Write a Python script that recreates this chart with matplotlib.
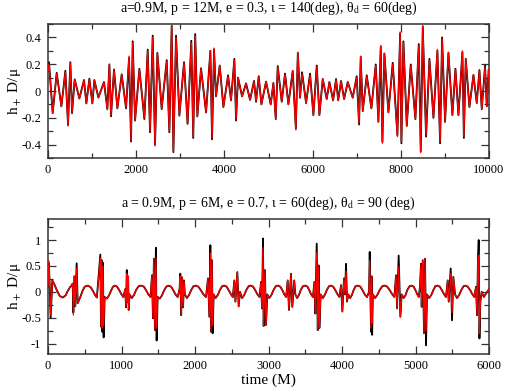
import matplotlib
matplotlib.use("Agg")
import matplotlib.pyplot as plt
from matplotlib.ticker import MultipleLocator, FixedFormatter, FixedLocator

plt.rcParams['font.family'] = ['Liberation Serif', 'DejaVu Serif']
plt.rcParams['mathtext.fontset'] = 'stix'

# ---------------- data (extrema) ----------------
top_t = [0, 23, 106, 197, 303, 394, 454, 507, 545, 605, 711, 817, 870, 938, 1006, 1051,
         1142, 1270, 1346, 1392, 1429, 1497, 1573, 1671, 1770, 1838, 1883, 1921, 1974,
         2072, 2185, 2261, 2314, 2374, 2427, 2480, 2578, 2692, 2752, 2805, 2843, 2903,
         2979, 3085, 3165, 3250, 3293, 3338, 3387, 3470, 3584, 3682, 3720, 3765, 3810,
         3894, 3977, 4083, 4150, 4226, 4264, 4309, 4400, 4491, 4582, 4672, 4718, 4778,
         4839, 4945, 5050, 5111, 5164, 5209, 5300, 5375, 5451, 5549, 5620, 5665, 5715,
         5761, 5852, 5942, 6018, 6094, 6154, 6230, 6320, 6381, 6465, 6532, 6580, 6645,
         6714, 6797, 6910, 7000, 7054, 7091, 7137, 7228, 7333, 7432, 7492, 7545, 7583,
         7628, 7719, 7817, 7923, 7984, 8014, 8059, 8135, 8225, 8331, 8407, 8452, 8498,
         8573, 8649, 8740, 8830, 8891, 8936, 9004, 9080, 9170, 9239, 9307, 9397, 9430,
         9473, 9556, 9647, 9722, 9783, 9836, 9911, 9949, 9994, 10000]
top_black = [0.15, 0.215, -0.165, 0.136, -0.115, 0.151, -0.254, 0.215, -0.165, 0.087, -0.056,
             0.082, -0.093, 0.092, -0.093, 0.082, -0.049, 0.067, -0.135, 0.198, -0.189,
             0.161, -0.13, 0.124, -0.13, 0.247, -0.377, 0.371, -0.221, 0.166, -0.209,
             0.309, -0.308, 0.413, -0.40, 0.284, -0.135, 0.23, -0.308, 0.487, -0.456,
             0.413, -0.184, 0.215, -0.245, 0.375, -0.35, 0.425, -0.19, 0.17, -0.16, 0.30,
             -0.36, 0.31, -0.04, 0.19, -0.12, 0.117, -0.07, 0.24, -0.22, 0.10, -0.04,
             0.057, -0.066, 0.075, -0.08, 0.11, -0.10, 0.07, -0.10, 0.06, -0.21, 0.186,
             -0.08, 0.13, -0.10, 0.15, -0.28, 0.284, -0.05, 0.14, -0.09, 0.13, -0.18,
             0.19, -0.18, 0.09, -0.06, 0.067, -0.07, 0.09, -0.07, 0.075, -0.06, 0.067,
             -0.05, 0.11, -0.25, 0.255, -0.15, 0.117, -0.13, 0.198, -0.23, 0.33, -0.38,
             0.28, -0.16, 0.21, -0.33, 0.43, -0.39, 0.37, -0.26, 0.198, -0.21, 0.35,
             -0.45, 0.48, -0.34, 0.24, -0.20, 0.30, -0.39, 0.40, -0.23, 0.284, -0.18,
             0.166, -0.18, 0.29, -0.35, 0.24, -0.12, 0.12, -0.09, 0.156, -0.135, 0.19,
             -0.115, 0.16, 0.12]
top_red = [0.15, 0.20, -0.165, 0.13, -0.115, 0.14, -0.26, 0.21, -0.16, 0.085, -0.056,
           0.08, -0.09, 0.085, -0.09, 0.08, -0.049, 0.065, -0.14, 0.20, -0.18,
           0.16, -0.13, 0.12, -0.125, 0.26, -0.37, 0.36, -0.22, 0.16, -0.20,
           0.30, -0.30, 0.40, -0.41, 0.28, -0.13, 0.22, -0.30, 0.49, -0.45,
           0.40, -0.18, 0.21, -0.24, 0.36, -0.34, 0.41, -0.19, 0.17, -0.16, 0.30,
           -0.35, 0.32, -0.04, 0.19, -0.12, 0.11, -0.07, 0.23, -0.21, 0.10, -0.04,
           0.055, -0.066, 0.07, -0.08, 0.105, -0.10, 0.07, -0.10, 0.06, -0.21, 0.18,
           -0.08, 0.125, -0.10, 0.15, -0.29, 0.29, -0.05, 0.13, -0.09, 0.12, -0.18,
           0.18, -0.18, 0.09, -0.06, 0.065, -0.07, 0.085, -0.07, 0.07, -0.06, 0.065,
           -0.05, 0.10, -0.24, 0.26, -0.15, 0.11, -0.13, 0.19, -0.23, 0.34, -0.39,
           0.28, -0.16, 0.20, -0.34, 0.44, -0.38, 0.36, -0.26, 0.19, -0.21, 0.34,
           -0.46, 0.49, -0.33, 0.23, -0.20, 0.31, -0.38, 0.39, -0.23, 0.29, -0.18,
           0.16, -0.18, 0.30, -0.34, 0.24, -0.12, 0.12, -0.09, 0.15, -0.135, 0.18,
           -0.115, 0.16, 0.12]

# bottom panel: smooth background between bursts (same for both curves)
bot_smooth_t = [85, 120, 160, 200, 240, 270, 300, 320,
                440, 470, 500, 540, 580, 610, 640, 665,
                800, 830, 860, 885, 910, 940, 970, 1000, 1025,
                1140, 1170, 1200, 1235, 1270, 1305, 1335, 1365, 1395,
                1520, 1550, 1580, 1610, 1640, 1675, 1705, 1735, 1765,
                1890, 1920, 1950, 1980, 2010, 2045, 2080, 2115, 2150,
                2280, 2310, 2340, 2370, 2400, 2430, 2460, 2490, 2515,
                2640, 2670, 2700, 2730, 2760, 2790, 2820, 2850, 2878,
                3010, 3040, 3070, 3100, 3130, 3160, 3190, 3215, 3240,
                3390, 3415, 3440, 3470, 3500, 3530, 3555, 3580, 3605,
                3740, 3765, 3795, 3825, 3850, 3880, 3910, 3940, 3965,
                4110, 4135, 4160, 4185, 4215, 4250, 4280, 4310, 4340,
                4450, 4480, 4515, 4550, 4580, 4615, 4650, 4685, 4712,
                4840, 4865, 4890, 4920, 4950, 4975, 5000, 5025, 5045,
                5185, 5215, 5245, 5270, 5300, 5330, 5360, 5390, 5415,
                5565, 5595, 5625, 5655, 5680, 5710, 5745, 5775, 5800,
                5930, 5960, 6000]
bot_smooth_h = [0.15, 0.03, -0.08, -0.11, -0.07, 0.02, 0.09, 0.12,
                -0.10, 0.02, 0.10, 0.12, 0.09, 0.02, -0.06, -0.11,
                -0.13, -0.07, 0.03, 0.10, 0.12, 0.10, 0.03, -0.05, -0.10,
                -0.12, -0.06, 0.04, 0.11, 0.12, 0.10, 0.03, -0.05, -0.10,
                -0.13, -0.07, 0.03, 0.10, 0.12, 0.10, 0.03, -0.05, -0.10,
                -0.12, -0.06, 0.04, 0.11, 0.12, 0.10, 0.03, -0.05, -0.10,
                -0.12, -0.06, 0.04, 0.11, 0.12, 0.10, 0.03, -0.05, -0.10,
                -0.12, -0.06, 0.04, 0.11, 0.12, 0.10, 0.03, -0.05, -0.10,
                -0.12, -0.06, 0.04, 0.11, 0.12, 0.10, 0.03, -0.05, -0.10,
                -0.12, -0.06, 0.04, 0.11, 0.12, 0.10, 0.03, -0.05, -0.10,
                -0.12, -0.06, 0.04, 0.11, 0.12, 0.10, 0.03, -0.05, -0.10,
                -0.12, -0.06, 0.04, 0.11, 0.12, 0.10, 0.03, -0.05, -0.10,
                -0.12, -0.06, 0.04, 0.11, 0.12, 0.10, 0.03, -0.05, -0.10,
                -0.12, -0.06, 0.04, 0.11, 0.12, 0.10, 0.03, -0.05, -0.10,
                -0.12, -0.06, 0.04, 0.11, 0.12, 0.10, 0.03, -0.05, -0.10,
                -0.12, -0.06, 0.04, 0.11, 0.12, 0.10, 0.03, -0.05, -0.10,
                -0.10, -0.03, 0.05]
# bottom panel: spikes near each close approach (black curve and red curve)
bot_burst_t = [0, 13, 36, 59,
               336, 345, 358, 372, 390, 404, 422,
               712, 721, 730, 739, 748, 757, 771,
               1050, 1062, 1072, 1080, 1090, 1098, 1110,
               1415, 1428, 1441, 1455, 1468, 1478, 1492,
               1790, 1800, 1812, 1825, 1838, 1850, 1862,
               2177, 2195, 2209, 2218, 2231, 2240, 2254,
               2535, 2550, 2576, 2594, 2612,
               2898, 2912, 2925, 2934, 2952, 2966, 2984,
               3261, 3279, 3306, 3324, 3350, 3365,
               3624, 3637, 3656, 3670, 3683, 3692, 3710,
               3987, 4005, 4027, 4041, 4055, 4068, 4086,
               4368, 4377, 4395, 4403, 4410, 4420,
               4735, 4749, 4771, 4794, 4812,
               5061, 5075, 5084, 5098, 5116, 5130, 5143, 5157,
               5438, 5452, 5479, 5497, 5515, 5538,
               5823, 5837, 5850, 5860, 5870, 5882, 5900]
bot_burst_black = [0.10, 0.55, -0.50, 0.22,
                   0.16, -0.40, 0.30, -0.28, 0.55, -0.22, -0.16,
                   0.72, -0.67, 0.61, -0.77, 0.56, -0.88, -0.10,
                   0.05, -0.30, 0.42, -0.20, 0.30, -0.35, -0.05,
                   0.32, -0.51, 0.64, -0.74, 0.85, -0.94, -0.10,
                   0.05, 0.35, -0.45, 0.28, -0.30, 0.22, -0.05,
                   0.26, -0.48, 0.90, -0.77, 0.61, -0.80, -0.05,
                   0.22, -0.19, 0.38, -0.28, 0.0,
                   0.19, -0.32, 1.03, -0.66, 0.42, -0.64, -0.05,
                   0.22, -0.35, 0.35, -0.29, 0.22, -0.05,
                   0.19, -0.42, 0.93, -0.74, 0.51, -0.70, -0.05,
                   0.13, -0.38, 0.26, -0.05, 0.54, -0.19, -0.05,
                   0.0, 0.77, -0.77, 0.30, -0.83, -0.05,
                   0.32, -0.32, 0.70, -0.48, -0.05,
                   0.10, 0.54, -0.29, 0.61, -0.80, 0.64, -1.03, -0.05,
                   0.22, -0.19, 0.45, -0.55, 0.29, -0.05,
                   0.10, -0.45, 0.61, 1.00, -0.90, -0.20, 0.0]
bot_burst_red = [0.10, 0.60, -0.45, 0.22,
                 0.16, -0.45, 0.30, -0.28, 0.45, -0.22, -0.16,
                 0.65, -0.67, 0.61, -0.70, 0.50, -0.65, -0.10,
                 0.05, -0.30, 0.35, -0.20, 0.30, -0.35, -0.05,
                 0.32, -0.51, 0.64, -0.74, 0.65, -0.70, -0.10,
                 0.05, 0.30, -0.45, 0.28, -0.30, 0.22, -0.05,
                 0.26, -0.48, 0.75, -0.77, 0.61, -0.65, -0.05,
                 0.22, -0.19, 0.38, -0.28, 0.0,
                 0.19, -0.32, 0.85, -0.66, 0.42, -0.64, -0.05,
                 0.22, -0.35, 0.35, -0.29, 0.22, -0.05,
                 0.19, -0.42, 0.75, -0.74, 0.51, -0.70, -0.05,
                 0.13, -0.38, 0.26, -0.05, 0.40, -0.19, -0.05,
                 0.0, 0.61, -0.70, 0.30, -0.60, -0.05,
                 0.32, -0.32, 0.48, -0.48, -0.05,
                 0.10, 0.54, -0.29, 0.61, -0.80, 0.64, -0.75, -0.05,
                 0.22, -0.19, 0.35, -0.40, 0.29, -0.05,
                 0.10, -0.45, 0.61, 0.70, -0.80, -0.20, 0.0]

top_title = 'a=0.9M, p = 12M, e = 0.3, ι = 140(deg), θ$_{\\rm d}$ = 60(deg)'
bot_title = 'a = 0.9M, p = 6M, e = 0.7, ι = 60(deg), θ$_{\\rm d}$ = 90 (deg)'
ylabel = 'h$_+$ D/μ'
xlabel = 'time (M)'
top_yticks = [-0.4, -0.2, 0, 0.2, 0.4]
top_ytick_labels = ['-0.4', '-0.2', '0', '0.2', '0.4']
bot_yticks = [-1, -0.5, 0, 0.5, 1]
bot_ytick_labels = ['-1', '-0.5', '0', '0.5', '1']

# merge the bottom pieces in time order
bot_rows = sorted([(t, h, h) for t, h in zip(bot_smooth_t, bot_smooth_h)] +
                  list(zip(bot_burst_t, bot_burst_black, bot_burst_red)))
bot_t = [r[0] for r in bot_rows]
bot_black = [r[1] for r in bot_rows]
bot_red = [r[2] for r in bot_rows]

# ---------------- figure ----------------
W, H = 507, 388
fig = plt.figure(figsize=(W / 100, H / 100), dpi=100)
ax1 = fig.add_axes([48 / W, 1 - 158 / H, 441 / W, 134 / H])
ax2 = fig.add_axes([48 / W, 1 - 354 / H, 441 / W, 134.7 / H])

for ax, t, b, r, lwb, lwr in [(ax1, top_t, top_black, top_red, 1.3, 0.95),
                              (ax2, bot_t, bot_black, bot_red, 1.3, 0.9)]:
    ax.plot(t, b, color='black', lw=lwb, zorder=2)
    ax.plot(t, r, color='#ff0000', lw=lwr, zorder=3)
    ax.tick_params(which='both', direction='in', top=True, right=True,
                   labelsize=9, width=0.9, color='#333333')
    ax.tick_params(which='major', length=6)
    ax.tick_params(which='minor', length=3.5)
    ax.tick_params(axis='y', pad=5)
    ax.tick_params(axis='x', pad=4)
    for s in ax.spines.values():
        s.set_linewidth(1.1)
        s.set_color('#333333')

ax1.set_xlim(0, 10000)
ax1.set_ylim(-0.5, 0.5)
ax1.xaxis.set_major_locator(MultipleLocator(2000))
ax1.xaxis.set_minor_locator(MultipleLocator(1000))
ax1.yaxis.set_major_locator(FixedLocator(top_yticks))
ax1.yaxis.set_major_formatter(FixedFormatter(top_ytick_labels))
ax1.yaxis.set_minor_locator(MultipleLocator(0.1))

ax2.set_xlim(0, 6000)
ax2.set_ylim(-1.2, 1.4)
ax2.xaxis.set_major_locator(MultipleLocator(1000))
ax2.xaxis.set_minor_locator(MultipleLocator(500))
ax2.yaxis.set_major_locator(FixedLocator(bot_yticks))
ax2.yaxis.set_major_formatter(FixedFormatter(bot_ytick_labels))
ax2.yaxis.set_minor_locator(MultipleLocator(0.25))

for ax in (ax1, ax2):
    ax.set_ylabel(ylabel, fontsize=11)
    ax.yaxis.set_label_coords(-25 / 441, 0.5)

cx = (48 + 441 / 2) / W
fig.text(cx, 1 - 11.5 / H, top_title, ha='center', va='baseline', fontsize=10)
fig.text(cx, 1 - 207 / H, bot_title, ha='center', va='baseline', fontsize=10)
fig.text(cx, 1 - 384 / H, xlabel, ha='center', va='baseline', fontsize=11)

fig.savefig('out.png', dpi=100)
